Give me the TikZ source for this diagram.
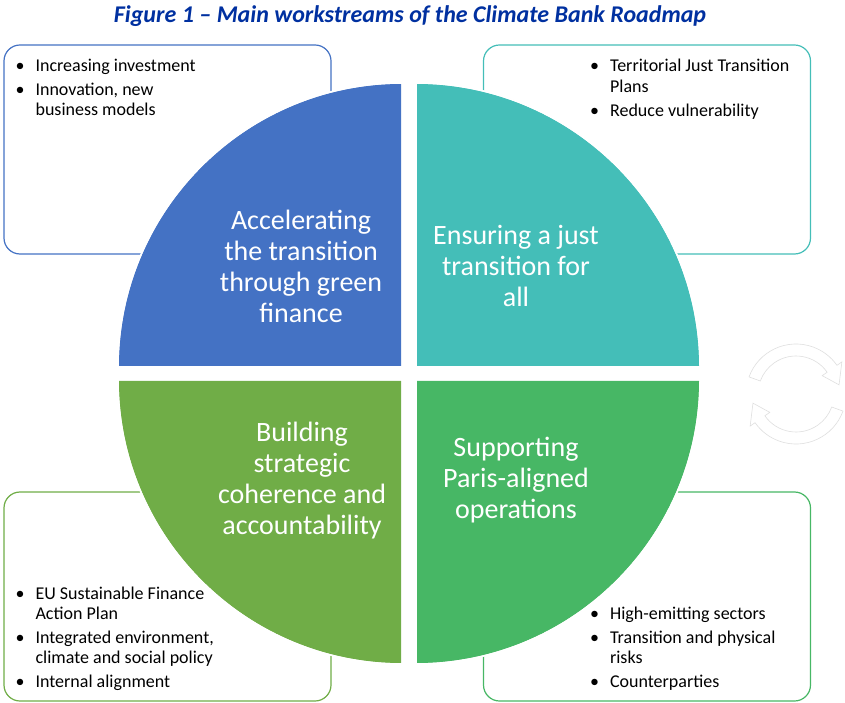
\documentclass[tikz,border=0pt]{standalone}
\usepackage{fontspec}
\setmainfont{Carlito}
\usetikzlibrary{positioning}
\definecolor{StreamBlue} {RGB}{68, 114, 196}
\definecolor{StreamTeal} {RGB}{68, 190, 184}
\definecolor{StreamLime} {RGB}{112,173,  71}
\definecolor{StreamGreen}{RGB}{71, 183, 101}
\definecolor{TitleBlue}  {RGB}{0,  48, 160}
\newcommand{\blist}[1]{\begin{tabular}{@{}c@{\hspace{11pt}}l@{}}#1\end{tabular}}

\begin{document}
\begin{tikzpicture}[
  x=1pt, y=1pt,
  quarter/.style={draw=white, line width=1.5pt},
  listbox/.style={
    draw, fill=white, rounded corners=16pt,
    line width=1.2pt, inner sep=0pt,
    minimum width=327pt, minimum height=209pt},
  bullets/.style={
    font=\fontsize{18pt}{20.5pt}\selectfont,
    inner sep=0pt, align=left},
  stream/.style={
    font=\fontsize{28pt}{31pt}\selectfont,
    text=white, align=center, inner sep=0pt},
  cyclearrow/.style={draw=gray!25, fill=white, line width=0.6pt}
]
\useasboundingbox (0,0) rectangle (845,702);

\node[font=\fontsize{24pt}{28pt}\selectfont\bfseries\itshape,
  text=TitleBlue] (title) at (410,686)
  {Figure 1 – Main workstreams of the Climate Bank Roadmap};

% corner boxes
\node[listbox, draw=StreamBlue]  (tlbox) at (167.5,552.5) {};
\node[listbox, draw=StreamTeal]  (trbox) at (647,552.5) {};
\node[listbox, draw=StreamLime]  (blbox) at (167.5,105.5) {};
\node[listbox, draw=StreamGreen] (brbox) at (647,105.5) {};

\node[bullets, anchor=north west] (tllist)
  at ([xshift=12pt,yshift=-13pt]tlbox.north west)
  {\blist{\textbullet & Increasing investment\\[3pt]
          \textbullet & Innovation, new\\
                      & business models}};
\node[bullets, anchor=north west] (trlist)
  at ([xshift=107pt,yshift=-13pt]trbox.north west)
  {\blist{\textbullet & Territorial Just Transition\\
                      & Plans\\[3.5pt]
          \textbullet & Reduce vulnerability}};
\node[bullets, anchor=south west] (bllist)
  at ([xshift=12pt,yshift=8pt]blbox.south west)
  {\blist{\textbullet & EU Sustainable Finance\\
                      & Action Plan\\[3pt]
          \textbullet & Integrated environment,\\
                      & climate and social policy\\[3pt]
          \textbullet & Internal alignment}};
\node[bullets, anchor=south west] (brlist)
  at ([xshift=107pt,yshift=8pt]brbox.south west)
  {\blist{\textbullet & High-emitting sectors\\[3pt]
          \textbullet & Transition and physical\\
                      & risks\\[3pt]
          \textbullet & Counterparties}};

% quarters of the circle
\fill[quarter, fill=StreamBlue]  (402,335) -- (118,335)
  arc[start angle=180, end angle=90,  radius=284] -- cycle;
\fill[quarter, fill=StreamTeal]  (416,335) -- (416,619)
  arc[start angle=90,  end angle=0,   radius=284] -- cycle;
\fill[quarter, fill=StreamLime]  (402,322) -- (118,322)
  arc[start angle=180, end angle=270, radius=284] -- cycle;
\fill[quarter, fill=StreamGreen] (416,322) -- (700,322)
  arc[start angle=0,   end angle=-90, radius=284] -- cycle;
\draw[quarter] (402,335) -- (118,335)
  arc[start angle=180, end angle=90,  radius=284] -- cycle;
\draw[quarter] (416,335) -- (416,619)
  arc[start angle=90,  end angle=0,   radius=284] -- cycle;
\draw[quarter] (402,322) -- (118,322)
  arc[start angle=180, end angle=270, radius=284] -- cycle;
\draw[quarter] (416,322) -- (700,322)
  arc[start angle=0,   end angle=-90, radius=284] -- cycle;

\node[stream] (green)  at (301,436)
  {Accelerating\\the transition\\through green\\finance};
\node[stream] (just)   at (516,436)
  {Ensuring a just\\transition for\\all};
\node[stream] (coher)  at (302,221.5)
  {Building\\strategic\\coherence and\\accountability};
\node[stream] (paris)  at (516,221.5)
  {Supporting\\Paris-aligned\\operations};

% faint cycle arrows
\coordinate (cyc) at (796,308);
\draw[cyclearrow] ([shift={(cyc)}]160:50)
  arc[start angle=160, end angle=35, radius=50]
  -- ([shift={(cyc)}]35:56) -- ([shift={(cyc)}]12:44)
  -- ([shift={(cyc)}]35:32) -- ([shift={(cyc)}]35:38)
  arc[start angle=35, end angle=160, radius=38] -- cycle;
\draw[cyclearrow] ([shift={(cyc)}]-20:50)
  arc[start angle=-20, end angle=-145, radius=50]
  -- ([shift={(cyc)}]-145:56) -- ([shift={(cyc)}]-168:44)
  -- ([shift={(cyc)}]-145:32) -- ([shift={(cyc)}]-145:38)
  arc[start angle=-145, end angle=-20, radius=38] -- cycle;

\end{tikzpicture}
\end{document}
